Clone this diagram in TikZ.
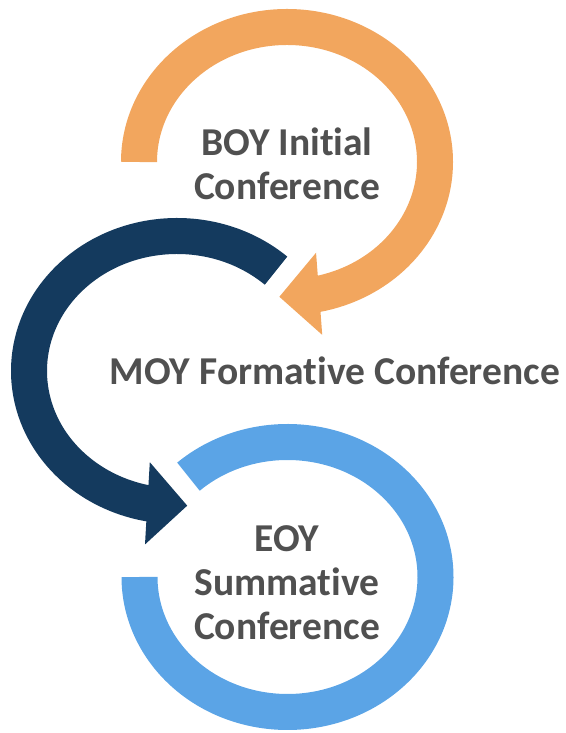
\documentclass[tikz,border=0pt]{standalone}
\usepackage{fontspec}
\setmainfont{Carlito}[Ligatures=NoCommon]
\usetikzlibrary{arrows.meta,bending}
\definecolor{boyorange}{HTML}{F2A65E}
\definecolor{moynavy}{HTML}{143A5E}
\definecolor{eoyblue}{HTML}{5BA4E6}
\definecolor{labelgray}{HTML}{505050}

\begin{document}
\begin{tikzpicture}[x=1pt,y=1pt,
  ring/.style={line width=36pt},
  ringhead/.style={-{Triangle[width=80pt,length=40pt]}},
  label/.style={font=\bfseries\fontsize{39.5}{44}\selectfont,text=labelgray,align=center,inner sep=0pt}]
\useasboundingbox (0,0) rectangle (565,733);
% centres of the three rings
\coordinate (cboy) at (287,571);
\coordinate (cmoy) at (177,362);
\coordinate (ceoy) at (287.5,156);
% rings
\draw[ring,boyorange,ringhead] ([shift={(180:148pt and 135pt)}]cboy) arc[start angle=180,end angle=-93,x radius=148pt,y radius=135pt];
\draw[ring,moynavy,ringhead] ([shift={(48:148pt and 135pt)}]cmoy) arc[start angle=48,end angle=274,x radius=148pt,y radius=135pt];
\draw[ring,eoyblue] ([shift={(132:148pt and 135pt)}]ceoy) arc[start angle=132,end angle=-180,x radius=148pt,y radius=135pt];
% labels
\node[label] (boy) at (287,569) {BOY Initial\\Conference};
\node[label,anchor=base] (moy) at (335,348) {MOY Formative Conference};
\node[label] (eoy) at (287,150) {EOY\\Summative\\Conference};
\end{tikzpicture}
\end{document}
